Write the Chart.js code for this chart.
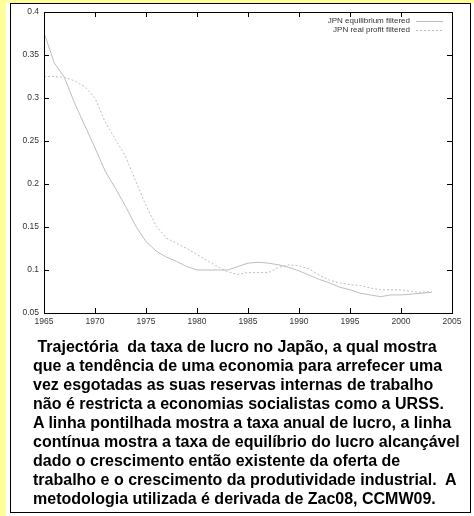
<!DOCTYPE html>
<html><head><meta charset="utf-8">
<script src="https://cdn.jsdelivr.net/npm/chart.js@4/dist/chart.umd.min.js"></script>
<style>
html,body{margin:0;padding:0;}
body{width:474px;height:516px;background:#ffff99;position:relative;overflow:hidden;font-family:"Liberation Sans",Arial,sans-serif;}
#white{position:absolute;left:6px;top:3px;width:468px;height:513px;background:#fff;}
#box{position:absolute;left:10px;top:3px;width:459px;height:508px;border:1px solid #000;box-sizing:content-box;}
#wrap{position:absolute;left:0;top:0;width:474px;height:340px;}
#cap{position:absolute;left:33px;top:337px;width:440px;font:bold 16px "Liberation Sans",Arial,sans-serif;line-height:19px;color:#000;white-space:nowrap;}
</style></head>
<body>
<div id="white"></div>
<div id="box"></div>
<div id="wrap"><canvas id="c" width="474" height="340"></canvas></div>
<div id="cap">&nbsp;Trajectória&nbsp; da taxa de lucro no Japão, a qual mostra<br>que a tendência de uma economia para arrefecer uma<br>vez esgotadas as suas reservas internas de trabalho<br>não é restricta a economias socialistas como a URSS.<br>A linha pontilhada mostra a taxa anual de lucro, a linha<br>contínua mostra a taxa de equilíbrio do lucro alcançável<br>dado o crescimento então existente da oferta de<br>trabalho e o crescimento da produtividade industrial.&nbsp; A<br>metodologia utilizada é derivada de Zac08, CCMW09.</div>
<script>
const years = [1965,1966,1967,1968,1969,1970,1971,1972,1973,1974,1975,1976,1977,1978,1979,1980,1981,1982,1983,1984,1985,1986,1987,1988,1989,1990,1991,1992,1993,1994,1995,1996,1997,1998,1999,2000,2001,2002,2003];
const equilibrium = [0.376,0.341,0.324,0.294,0.268,0.242,0.215,0.195,0.174,0.151,0.133,0.122,0.115,0.110,0.104,0.100,0.100,0.100,0.100,0.104,0.108,0.109,0.108,0.106,0.103,0.099,0.094,0.089,0.085,0.080,0.077,0.073,0.071,0.069,0.071,0.071,0.072,0.073,0.074];
const realProfit = [0.325,0.325,0.324,0.320,0.313,0.300,0.272,0.252,0.232,0.203,0.175,0.151,0.137,0.131,0.125,0.118,0.111,0.104,0.098,0.095,0.097,0.097,0.097,0.103,0.106,0.105,0.101,0.094,0.088,0.085,0.083,0.082,0.079,0.077,0.077,0.077,0.075,0.074,0.075];
const seriesNames = ["JPN equilibrium filtered","JPN real profit filtered"];
const xTicks = [1965,1970,1975,1980,1985,1990,1995,2000,2005];
const yTicks = [0.05,0.1,0.15,0.2,0.25,0.3,0.35,0.4];

const lineColor = '#bdbdbd';
const frame = {
  id:'frame',
  afterDraw(chart){
    const ctx = chart.ctx, a = chart.chartArea, xs = chart.scales.x, ys = chart.scales.y;
    ctx.save();
    ctx.strokeStyle = '#000'; ctx.lineWidth = 1;
    ctx.strokeRect(Math.round(a.left)+0.5, Math.round(a.top)+0.5, Math.round(a.right-a.left), Math.round(a.bottom-a.top));
    const L = 5;
    ctx.beginPath();
    xTicks.forEach(v=>{ const p = Math.round(xs.getPixelForValue(v))+0.5;
      ctx.moveTo(p,a.bottom); ctx.lineTo(p,a.bottom-L);
      ctx.moveTo(p,a.top); ctx.lineTo(p,a.top+L); });
    yTicks.forEach(v=>{ const p = Math.round(ys.getPixelForValue(v))+0.5;
      ctx.moveTo(a.left,p); ctx.lineTo(a.left+L,p);
      ctx.moveTo(a.right,p); ctx.lineTo(a.right-L,p); });
    ctx.stroke();
    // legend
    ctx.font = '8px "Liberation Sans", Arial, sans-serif';
    ctx.fillStyle = '#333'; ctx.textAlign = 'right'; ctx.textBaseline = 'middle';
    chart.data.datasets.forEach((ds,i)=>{
      const y = 20.5 + i*9.5;
      ctx.fillText(ds.label, 410, y);
      ctx.strokeStyle = ds.borderColor; ctx.lineWidth = 1;
      ctx.setLineDash(ds.borderDash || []);
      ctx.beginPath(); ctx.moveTo(416, Math.round(y)+0.5); ctx.lineTo(443, Math.round(y)+0.5); ctx.stroke();
    });
    ctx.restore();
  }
};

new Chart(document.getElementById('c'), {
  type:'line',
  data:{ datasets:[
    {label:seriesNames[0], data:years.map((y,i)=>({x:y,y:equilibrium[i]})), borderColor:lineColor, borderWidth:1, pointRadius:0, tension:0, fill:false},
    {label:seriesNames[1], data:years.map((y,i)=>({x:y,y:realProfit[i]})), borderColor:lineColor, borderWidth:1, borderDash:[2,2], pointRadius:0, tension:0, fill:false}
  ]},
  options:{
    responsive:false, animation:false, devicePixelRatio:1,
    layout:{padding:{top:12,right:22,left:0,bottom:7}},
    plugins:{legend:{display:false}, tooltip:{enabled:false}},
    scales:{
      x:{type:'linear', min:1965, max:2005,
         afterBuildTicks:s=>{ s.ticks = xTicks.map(v=>({value:v})); },
         afterFit:s=>{ s.height = 20; },
         grid:{display:false, drawTicks:false}, border:{display:false},
         ticks:{padding:4, color:'#333', font:{family:'"Liberation Sans", Arial, sans-serif', size:8.5}, maxRotation:0, autoSkip:false, callback:v=>String(v)}},
      y:{type:'linear', min:0.05, max:0.4,
         afterBuildTicks:s=>{ s.ticks = yTicks.map(v=>({value:v})); },
         afterFit:s=>{ s.width = 44; },
         grid:{display:false, drawTicks:false}, border:{display:false},
         ticks:{padding:5, color:'#333', font:{family:'"Liberation Sans", Arial, sans-serif', size:8.5}, autoSkip:false, callback:v=>String(parseFloat(v.toFixed(2)))}}
    }
  },
  plugins:[frame]
});
</script>
</body></html>
